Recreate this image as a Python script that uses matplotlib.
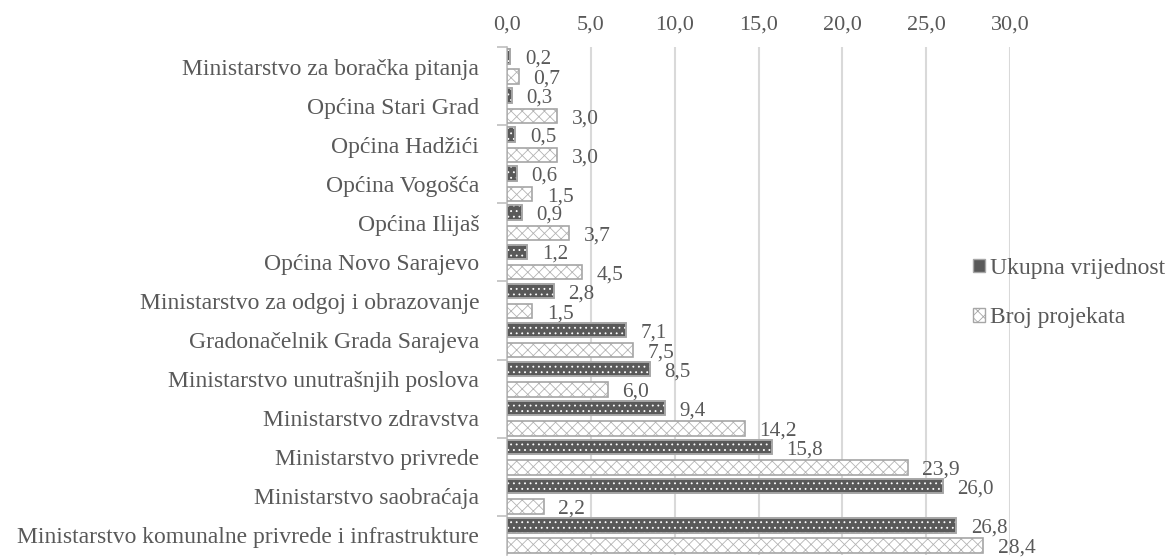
import matplotlib
matplotlib.use("Agg")
import matplotlib.pyplot as plt
from matplotlib.patches import Patch
import numpy as np

categories = [
    "Ministarstvo za boračka pitanja",
    "Općina Stari Grad",
    "Općina Hadžići",
    "Općina Vogošća",
    "Općina Ilijaš",
    "Općina Novo Sarajevo",
    "Ministarstvo za odgoj i obrazovanje",
    "Gradonačelnik Grada Sarajeva",
    "Ministarstvo unutrašnjih poslova",
    "Ministarstvo zdravstva",
    "Ministarstvo privrede",
    "Ministarstvo saobraćaja",
    "Ministarstvo komunalne privrede i infrastrukture",
]
ukupna = [0.2, 0.3, 0.5, 0.6, 0.9, 1.2, 2.8, 7.1, 8.5, 9.4, 15.8, 26.0, 26.8]
broj = [0.7, 3.0, 3.0, 1.5, 3.7, 4.5, 1.5, 7.5, 6.0, 14.2, 23.9, 2.2, 28.4]
series_names = ["Ukupna vrijednost", "Broj projekata"]
xticks = [0, 5, 10, 15, 20, 25, 30]

plt.rcParams['font.family'] = ['Liberation Serif', 'DejaVu Serif']
plt.rcParams['hatch.linewidth'] = 0.6
TXT = "#595959"
DARK = "#595959"
EDGE = "#a6a6a6"
GRID = "#d9d9d9"

fig = plt.figure(figsize=(11.72, 5.58), dpi=100)
ax = fig.add_axes([507/1172, 1 - 555/558, 503/1172, (555 - 47)/558])

y = np.arange(len(categories))
h = 0.37
off = 0.26

# dark bars: solid fill, white dots overlay
plt.rcParams['hatch.color'] = 'white'
ax.barh(y - off, ukupna, height=h, color=DARK, edgecolor=EDGE, linewidth=1.2, zorder=3)
ax.barh(y - off, ukupna, height=h, color='none', edgecolor='white', linewidth=0, hatch='...', zorder=4)
ax.barh(y - off, ukupna, height=h, color='none', edgecolor=EDGE, linewidth=1.2, zorder=5)
# hatched bars
ax.barh(y + off, broj, height=h, color='white', edgecolor="#b3b3b3", linewidth=0, hatch='xxx', zorder=3)
ax.barh(y + off, broj, height=h, color='none', edgecolor=EDGE, linewidth=1.2, zorder=5)

def fmt(v):
    return f"{v:.1f}".replace('.', ',')

for yi, v in zip(y, ukupna):
    ax.annotate(fmt(v), (v, yi - off), xytext=(10.5, -2), textcoords='offset points',
                va='center', ha='left', fontsize=15, color=TXT)
for yi, v in zip(y, broj):
    ax.annotate(fmt(v), (v, yi + off), xytext=(10.5, -2), textcoords='offset points',
                va='center', ha='left', fontsize=15.5, color=TXT)

ax.set_xlim(0, 30)
ax.set_ylim(len(categories) - 0.5, -0.5)
ax.set_xticks(xticks)
ax.set_xticklabels([fmt(t) for t in xticks], fontsize=16, color=TXT)
ax.xaxis.tick_top()
ax.tick_params(axis='x', length=0, pad=9)
ax.set_yticks(y)
ax.set_yticklabels(categories, fontsize=17, color=TXT)
ax.tick_params(axis='y', which='major', length=0, pad=20)
ax.set_yticks(np.arange(-0.5, len(categories) - 0.5, 2), minor=True)
ax.tick_params(axis='y', which='minor', length=7, width=1.2, color="#bfbfbf", direction='out')

ax.grid(axis='x', color=GRID, linewidth=1.5, zorder=0)
ax.set_axisbelow(True)
for s in ['top', 'right', 'bottom']:
    ax.spines[s].set_visible(False)
ax.spines['left'].set_color("#bfbfbf")
ax.spines['left'].set_linewidth(1.2)

handles = [
    Patch(facecolor=DARK, edgecolor=EDGE, linewidth=1.0, label=series_names[0]),
    Patch(facecolor='white', edgecolor=EDGE, hatch='xxx', linewidth=1.0, label=series_names[1]),
]
leg = fig.legend(handles=handles, loc='center left', bbox_to_anchor=(964/1172, 1 - 293/558),
                 frameon=False, fontsize=17, handlelength=0.5, handleheight=0.5,
                 handletextpad=0.2, labelspacing=1.2, borderaxespad=0)
for t in leg.get_texts():
    t.set_color(TXT)

fig.savefig("out.png", dpi=100)
